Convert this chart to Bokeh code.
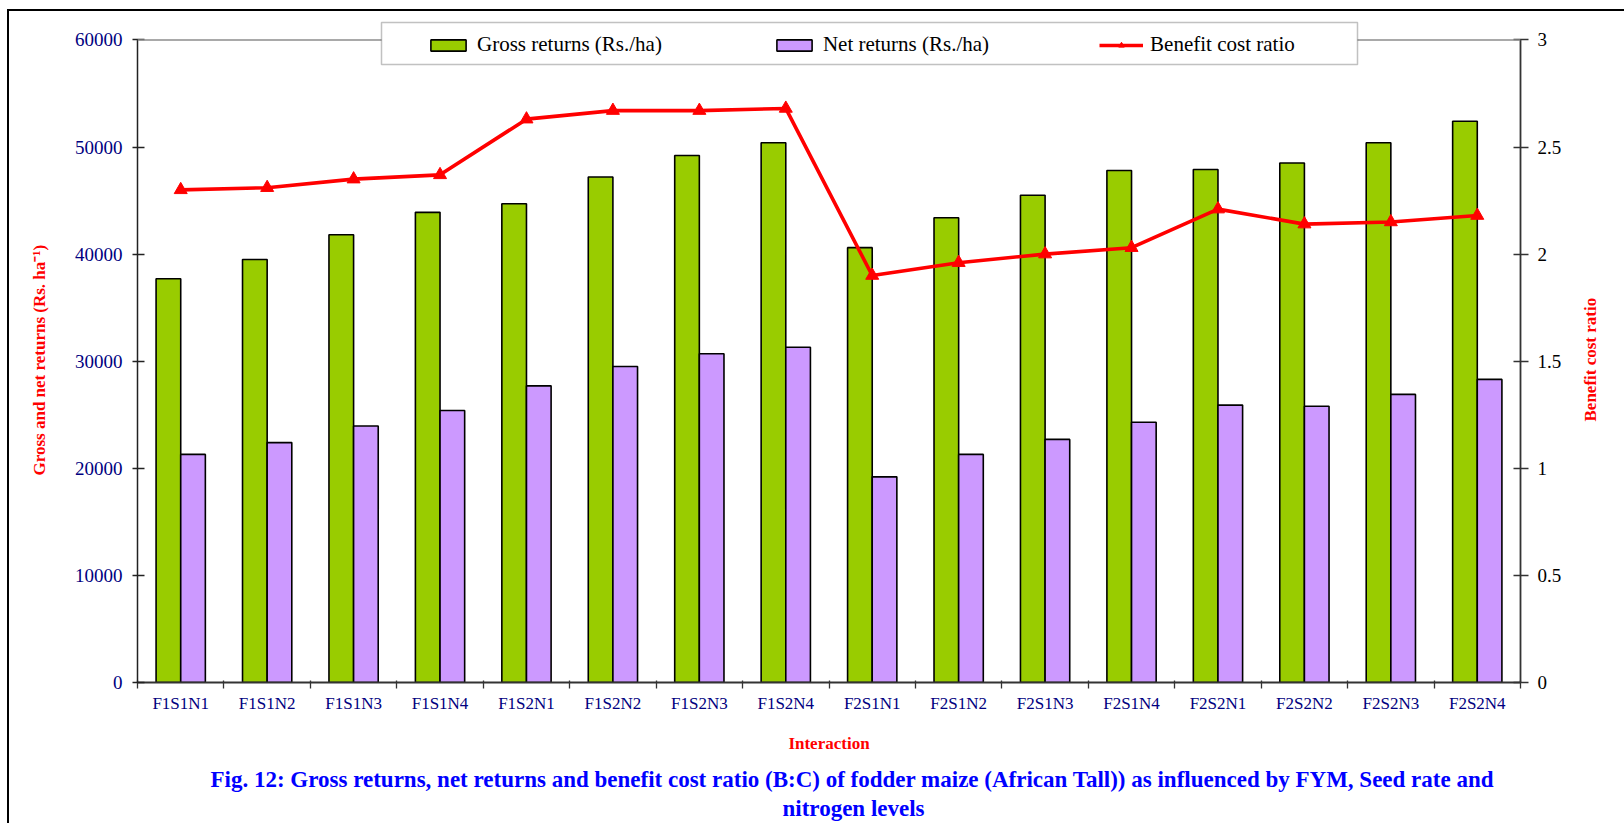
import math
import numpy as np
from bokeh.plotting import figure
from bokeh.models import (ColumnDataSource, Range1d, LinearAxis, FixedTicker,
                          NumeralTickFormatter, CustomJSTickFormatter, Legend,
                          LegendItem, Span, BoxAnnotation, Title, InlineStyleSheet)
from bokeh.transform import dodge
from bokeh.embed import file_html
from bokeh.resources import INLINE

# Treatment combinations (FYM x seed rate x nitrogen)
treatments = ["F1S1N1", "F1S1N2", "F1S1N3", "F1S1N4", "F1S2N1", "F1S2N2", "F1S2N3", "F1S2N4",
              "F2S1N1", "F2S1N2", "F2S1N3", "F2S1N4", "F2S2N1", "F2S2N2", "F2S2N3", "F2S2N4"]
gross_returns = [37700, 39500, 41800, 43900, 44700, 47200, 49200, 50400,
                 40600, 43400, 45500, 47800, 47900, 48500, 50400, 52400]
net_returns = [21300, 22400, 23950, 25400, 27700, 29500, 30700, 31300,
               19200, 21300, 22700, 24300, 25900, 25800, 26900, 28300]
bc_ratio = [2.30, 2.31, 2.35, 2.37, 2.63, 2.67, 2.67, 2.68,
            1.90, 1.96, 2.00, 2.03, 2.21, 2.14, 2.15, 2.18]
returns_ticks = [0, 10000, 20000, 30000, 40000, 50000, 60000]
ratio_ticks = [0, 0.5, 1, 1.5, 2, 2.5, 3]

SERIF = "Liberation Serif"
NAVY = "#000080"
GREEN = "#99CC00"
LILAC = "#CC99FF"
RED = "#FF0000"

# page geometry (canvas pixels)
W, H = 1624, 823
FRAME_LEFT, FRAME_RIGHT = 137, 1520
FRAME_TOP, AXIS_TOP, FRAME_BOTTOM = 12, 39.4, 682
# the frame reaches above the axis tops so the legend box can sit there
head = (FRAME_BOTTOM - FRAME_TOP) / (FRAME_BOTTOM - AXIS_TOP)
px_per_ratio = (FRAME_BOTTOM - AXIS_TOP) / ratio_ticks[-1]

n = len(treatments)
centers = np.arange(n) + 0.5
src = ColumnDataSource(dict(x=centers, name=treatments, gross=gross_returns,
                            net=net_returns, bcr=bc_ratio))

p = figure(width=W, height=H, output_backend="svg", toolbar_location=None,
           x_range=Range1d(0, n),
           y_range=Range1d(returns_ticks[0], returns_ticks[-1] * head),
           min_border_left=FRAME_LEFT, min_border_right=W - FRAME_RIGHT,
           min_border_top=FRAME_TOP, min_border_bottom=H - FRAME_BOTTOM)
p.extra_y_ranges = {"bcr": Range1d(ratio_ticks[0], ratio_ticks[-1] * head)}
p.outline_line_color = None
p.grid.visible = False
p.background_fill_color = "white"
p.border_fill_color = "white"

# outer frame of the whole figure (top and left edges)
p.stylesheets = [InlineStyleSheet(css=
    ":host::after { content: ''; position: absolute; left: 7px; top: 9px; "
    "width: 1617px; height: 814px; box-sizing: border-box; "
    "border-left: 2.5px solid black; border-top: 2.5px solid black; "
    "pointer-events: none; z-index: 10; }")]

# top boundary of the plot area
p.add_layout(Span(location=returns_ticks[-1], dimension="width",
                  line_color="#8c8c8c", line_width=1.5))

bar_w = 0.285
gross_r = p.vbar(x=dodge("x", -bar_w / 2), top="gross", width=bar_w, source=src,
                 fill_color=GREEN, line_color="black", line_width=1.6)
net_r = p.vbar(x=dodge("x", bar_w / 2), top="net", width=bar_w, source=src,
               fill_color=LILAC, line_color="black", line_width=1.6)
line_r = p.line(x="x", y="bcr", source=src, y_range_name="bcr",
                line_color=RED, line_width=3.6)
pts_r = p.scatter(x="x", y="bcr", source=src, y_range_name="bcr", marker="triangle",
                  size=13, fill_color=RED, line_color=RED)

# bottom axis: labels at category centres, ticks on category boundaries
xa = p.xaxis[0]
xa.ticker = FixedTicker(ticks=list(centers), minor_ticks=list(range(n + 1)))
xa.formatter = CustomJSTickFormatter(args=dict(names=treatments),
                                     code="return names[Math.floor(tick)]")
xa.major_tick_line_color = None
xa.major_tick_out = 0
xa.major_tick_in = 0
xa.minor_tick_out = 6
xa.minor_tick_in = 2
xa.minor_tick_line_color = "#333333"
xa.minor_tick_line_width = 1.3
xa.axis_line_color = "#333333"
xa.axis_line_width = 1.8
xa.major_label_standoff = 5
xa.major_label_text_font = SERIF
xa.major_label_text_font_size = "17px"
xa.major_label_text_color = NAVY
xa.axis_label = "Interaction"
xa.axis_label_text_font = SERIF
xa.axis_label_text_font_size = "17px"
xa.axis_label_text_font_style = "bold"
xa.axis_label_text_color = RED
xa.axis_label_standoff = 18

# left axis: returns
ya = p.yaxis[0]
ya.ticker = FixedTicker(ticks=returns_ticks)
ya.bounds = (returns_ticks[0], returns_ticks[-1])
ya.formatter = NumeralTickFormatter(format="0")
ya.major_tick_out = 5
ya.major_tick_in = 7
ya.minor_tick_line_color = None
ya.major_tick_line_color = "#222222"
ya.major_tick_line_width = 1.3
ya.axis_line_color = "#222222"
ya.axis_line_width = 1.5
ya.major_label_standoff = 10
ya.major_label_text_font = SERIF
ya.major_label_text_font_size = "19px"
ya.major_label_text_color = NAVY

# left axis title, reading upwards, outside the tick labels
p.add_layout(Title(text="Gross and net returns (Rs. ha\u207b\u00b9)", align="left",
                   vertical_align="middle", offset=207, standoff=43,
                   text_font=SERIF, text_font_size="17px", text_font_style="bold",
                   text_color=RED), "left")

# right axis: benefit cost ratio
ra = LinearAxis(y_range_name="bcr", ticker=FixedTicker(ticks=ratio_ticks),
                formatter=NumeralTickFormatter(format="0.[0]"),
                bounds=(ratio_ticks[0], ratio_ticks[-1]))
ra.major_tick_out = 8
ra.major_tick_in = 7
ra.minor_tick_line_color = None
ra.major_tick_line_color = "#333333"
ra.major_tick_line_width = 1.3
ra.axis_line_color = "#333333"
ra.axis_line_width = 1.8
ra.major_label_standoff = 9
ra.major_label_text_font = SERIF
ra.major_label_text_font_size = "19px"
ra.major_label_text_color = "black"
p.add_layout(ra, "right")

# right axis title, reading upwards; it starts at the tick of a bare outer axis
ratio_title_start = (FRAME_BOTTOM - 421) / px_per_ratio
ra_title = LinearAxis(y_range_name="bcr", ticker=FixedTicker(ticks=[ratio_title_start]),
                      formatter=CustomJSTickFormatter(args=dict(t="Benefit cost ratio"),
                                                      code="return t"),
                      axis_line_color=None, major_tick_line_color=None,
                      minor_tick_line_color=None, major_tick_out=0, major_tick_in=0,
                      major_label_orientation=math.pi / 2, major_label_standoff=26,
                      major_label_text_font=SERIF, major_label_text_font_size="17px",
                      major_label_text_font_style="bold", major_label_text_color=RED)
p.add_layout(ra_title, "right")

# legend frame and entries
p.add_layout(BoxAnnotation(left=381, right=1357, top=22, bottom=64,
                           left_units="canvas", right_units="canvas",
                           top_units="canvas", bottom_units="canvas",
                           fill_color="white", fill_alpha=1,
                           line_color="#333333", line_width=1.5))
legend = Legend(items=[LegendItem(label="Gross returns (Rs./ha)", renderers=[gross_r]),
                       LegendItem(label="Net returns (Rs./ha)", renderers=[net_r]),
                       LegendItem(label="Benefit cost ratio", renderers=[line_r, pts_r])],
                orientation="horizontal", location=(289, 625), margin=0, padding=10,
                glyph_width=44, glyph_height=14, label_standoff=7, spacing=110,
                border_line_color=None, background_fill_alpha=0,
                label_text_font=SERIF, label_text_font_size="21px",
                label_text_color="black")
p.add_layout(legend, "center")

# figure caption, two lines
cap_style = dict(align="left", text_font=SERIF, text_font_size="23px",
                 text_font_style="bold", text_color="#0000FF")
p.add_layout(Title(text="Fig. 12: Gross returns, net returns and benefit cost ratio (B:C) of "
                        "fodder maize (African Tall)) as influenced by FYM,  Seed rate and",
                   offset=73, standoff=19, **cap_style), "below")
p.add_layout(Title(text="nitrogen levels", offset=645, standoff=-16, **cap_style), "below")

open("out.html", "w").write(file_html(p, INLINE))
